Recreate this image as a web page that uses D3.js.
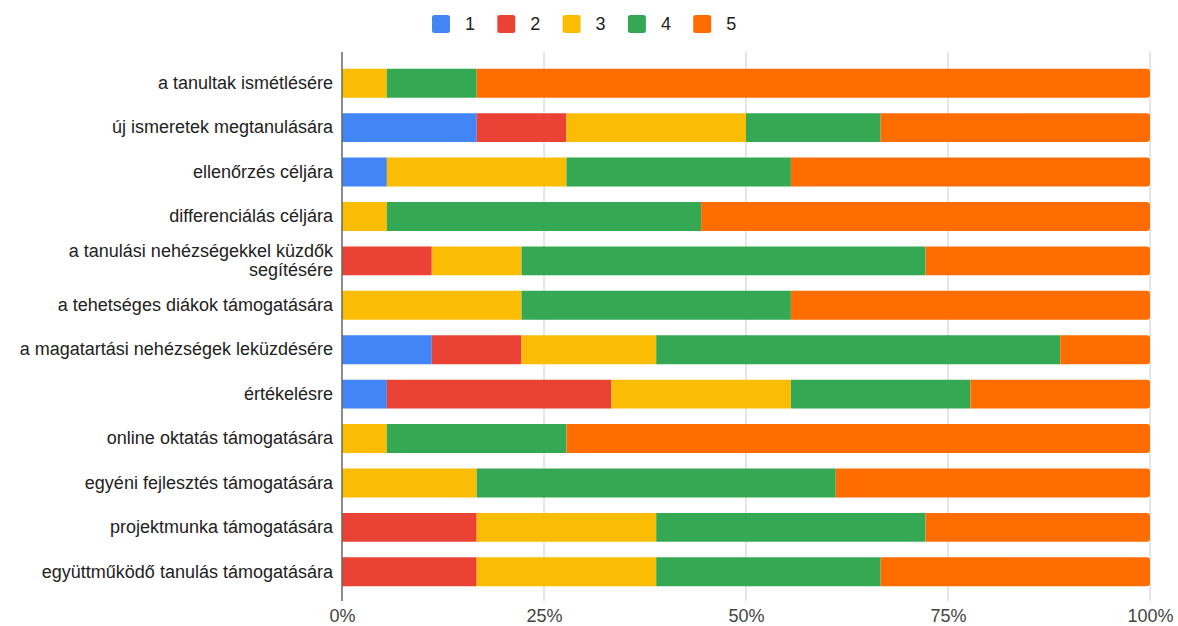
<!DOCTYPE html>
<html>
<head>
<meta charset="utf-8">
<script src="https://cdn.jsdelivr.net/npm/d3@7"></script>
<style>
  body { margin: 0; background: #fff; }
  svg { font-family: "Liberation Sans", Arial, sans-serif; }
</style>
</head>
<body>
<svg id="main" width="1178" height="626"></svg>
<script>
"use strict";

// data (answers counted per category, 18 respondents)
const categories = [
  "a tanultak ismétlésére",
  "új ismeretek megtanulására",
  "ellenőrzés céljára",
  "differenciálás céljára",
  "a tanulási nehézségekkel küzdők segítésére",
  "a tehetséges diákok támogatására",
  "a magatartási nehézségek leküzdésére",
  "értékelésre",
  "online oktatás támogatására",
  "egyéni fejlesztés támogatására",
  "projektmunka támogatására",
  "együttműködő tanulás támogatására"
];
const seriesNames = ["1", "2", "3", "4", "5"];
const s1 = [0, 3, 1, 0, 0, 0, 2, 1, 0, 0, 0, 0];
const s2 = [0, 2, 0, 0, 2, 0, 2, 5, 0, 0, 3, 3];
const s3 = [1, 4, 4, 1, 2, 4, 3, 4, 1, 3, 4, 4];
const s4 = [2, 3, 5, 7, 9, 6, 9, 4, 4, 8, 6, 5];
const s5 = [15, 6, 8, 10, 5, 8, 2, 4, 13, 7, 5, 6];
const tickValues = [0, 0.25, 0.5, 0.75, 1];

const colors = ["#4285f4", "#ea4335", "#fbbc04", "#34a853", "#ff6d01"];

// build rows for the stack
const rows = categories.map((c, i) => ({
  cat: c, "1": s1[i], "2": s2[i], "3": s3[i], "4": s4[i], "5": s5[i]
}));

const stack = d3.stack().keys(seriesNames).offset(d3.stackOffsetExpand);
const layers = stack(rows);

const mySvg = d3.select("#main");
const plot = { left: 342, right: 1150, top: 61, bottom: 594 };
const fontSize = "18px";

const x = d3.scaleLinear().domain([0, 1]).range([plot.left, plot.right]);
const y = d3.scaleBand().domain(categories).range([plot.top, plot.bottom]).paddingInner(0.35).paddingOuter(0.175);
const color = d3.scaleOrdinal().domain(seriesNames).range(colors);

// gridlines
mySvg.append("g")
  .selectAll("line")
  .data(tickValues.slice(1))
  .join("line")
    .attr("x1", d => x(d)).attr("x2", d => x(d))
    .attr("y1", 52).attr("y2", 601)
    .attr("stroke", "#cccccc").attr("stroke-width", 1);

// bars
mySvg.append("g")
  .selectAll("g")
  .data(layers)
  .join("g")
    .attr("fill", d => color(d.key))
  .selectAll("path")
  .data(d => d.map(v => ({ v, last: d.key === "5" })))
  .join("path")
    .attr("d", d => {
      const x0 = x(d.v[0]), x1 = x(d.v[1]);
      const y0 = y(d.v.data.cat), h = y.bandwidth();
      if (x1 - x0 <= 0) return "";
      if (!d.last) return `M${x0},${y0}H${x1}V${y0 + h}H${x0}Z`;
      const r = 3;
      return `M${x0},${y0}H${x1 - r}Q${x1},${y0} ${x1},${y0 + r}V${y0 + h - r}Q${x1},${y0 + h} ${x1 - r},${y0 + h}H${x0}Z`;
    });

// zero baseline
mySvg.append("line")
  .attr("x1", x(0)).attr("x2", x(0))
  .attr("y1", 52).attr("y2", 601)
  .attr("stroke", "#666666").attr("stroke-width", 1.5);

// x axis labels
const xAxis = d3.axisBottom(x).tickValues(tickValues).tickFormat(d3.format(".0%")).tickSize(0).tickPadding(0);
const gx = mySvg.append("g").attr("transform", `translate(0,${605})`).call(xAxis);
gx.select(".domain").remove();
gx.selectAll("text")
  .attr("y", 17)
  .attr("dy", null)
  .attr("fill", "#444444")
  .style("font-size", fontSize)
  .style("font-family", "'Liberation Sans', Arial, sans-serif");

// y axis labels (wrapped)
const yAxis = d3.axisLeft(y).tickSize(0).tickPadding(9);
const gy = mySvg.append("g").attr("transform", `translate(${plot.left},0)`).call(yAxis);
gy.select(".domain").remove();
gy.selectAll("text")
  .attr("fill", "#222222")
  .style("font-size", fontSize)
  .style("font-family", "'Liberation Sans', Arial, sans-serif")
  .each(function(d) {
    const t = d3.select(this);
    if (d.length > 40) {
      const cut = d.lastIndexOf(" ");
      const a = d.slice(0, cut), b = d.slice(cut + 1);
      const xx = t.attr("x");
      t.text(null).attr("dy", null);
      t.append("tspan").attr("x", xx).attr("dy", "-0.22em").text(a);
      t.append("tspan").attr("x", xx).attr("dy", "1.08em").text(b);
    }
  });

// legend
const legend = mySvg.append("g").attr("transform", "translate(432,15)");
const item = legend.selectAll("g")
  .data(seriesNames)
  .join("g")
    .attr("transform", (d, i) => `translate(${i * 65.3},0)`);
item.append("rect")
  .attr("width", 18).attr("height", 18).attr("rx", 2.5)
  .attr("fill", d => color(d));
item.append("text")
  .attr("x", 33).attr("y", 9).attr("dy", "0.36em")
  .attr("fill", "#222222")
  .style("font-size", fontSize)
  .text(d => d);
</script>
</body>
</html>
